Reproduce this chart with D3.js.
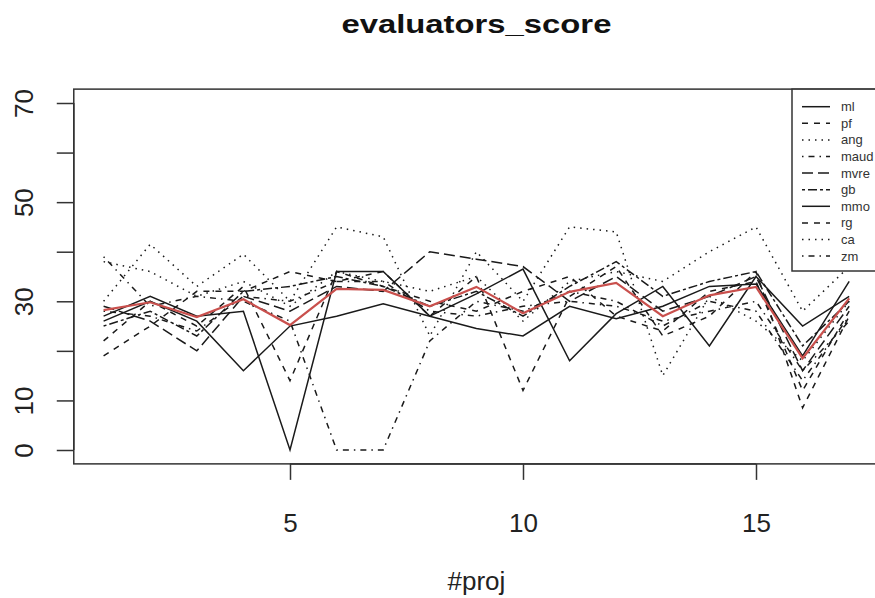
<!DOCTYPE html>
<html>
<head>
<meta charset="utf-8">
<script src="https://cdn.jsdelivr.net/npm/d3@7"></script>
<style>
  html, body { margin: 0; padding: 0; background: #fff; }
  text { font-family: "Liberation Sans", Arial, sans-serif; }
</style>
</head>
<body>
<div id="chart"></div>
<script>
// project index on x
const projects = [1, 2, 3, 4, 5, 6, 7, 8, 9, 10, 11, 12, 13, 14, 15, 16, 17];
const evaluators = ["ml", "pf", "ang", "maud", "mvre", "gb", "mmo", "rg", "ca", "zm"];

// scores per evaluator
const ml   = [27, 31, 27, 28, 0, 36, 36, 27, 31.5, 36.5, 18, 27.5, 33, 21, 35, 25, 31];
const pf   = [22, 30, 25, 33, 14, 36, 33, 30, 28, 32, 35, 27, 24, 32, 34, 12, 28];
const ang  = [30, 41.5, 33, 39.5, 30, 45, 43, 23, 40, 30, 45, 44, 15, 31, 26, 18, 30];
const maud = [39, 29, 31, 30, 26, 0, 0, 22, 30, 28, 32, 30, 25, 30, 28, 14, 27];
const mvre = [29, 26, 20, 31, 28, 33, 32, 40, 38.5, 37, 30, 35, 28, 31, 35, 16, 29];
const gb   = [25, 28, 23, 32, 33, 35, 33, 29, 32, 27, 33, 38, 31, 34, 36, 21, 30];
const mmo  = [26, 30, 26, 16, 25, 27, 29.5, 27, 24.5, 23, 29, 26.5, 29, 33, 33.5, 19, 34];
const rg   = [19, 25, 32, 32, 36, 34, 36, 27, 35, 12, 31, 37, 23, 27, 36, 8.5, 27];
const ca   = [38, 36, 31, 34, 29, 36, 34, 32, 35, 26, 34, 36, 34, 40, 45, 28, 37];
const zm   = [28, 27, 24, 31, 30, 34, 34, 28, 27, 29, 30, 29, 26, 28, 30, 16, 26];

// red line (average)
const meanScore = [28.2, 29.8, 26.8, 30.4, 25.2, 32.5, 32.3, 29, 32.9, 27.6, 31.9, 33.7, 27, 31.2, 32.9, 18.5, 30.6];

const yTicks = [0, 10, 20, 30, 40, 50, 60, 70];
const yLabels = [0, 10, 30, 50, 70];
const xTicks = [5, 10, 15];

const scores = { ml, pf, ang, maud, mvre, gb, mmo, rg, ca, zm };

// R lty 1..6 cycling, scaled up to match the picture
const ltyDash = [null, "6,6", "1.5,5", "1.5,5,6,5", "11,5", "3,3,9,3"];

const width = 875, height = 598;
const axisColor = "#333";

const svg = d3.select("#chart")
  .append("svg")
  .attr("width", width)
  .attr("height", height)
  .style("background-color", "white");

const xScale = d3.scaleLinear().domain([1, 17]).range([103.6, 849.2]);
const yScale = d3.scaleLinear().domain([0, 70]).range([450, 103]);

// R style 4% padding for the box
const boxL = xScale(1 - 0.64), boxR = xScale(17 + 0.64);
const boxT = yScale(70 + 2.8), boxB = yScale(0 - 2.8);

svg.append("text")
  .attr("x", (boxL + boxR) / 2)
  .attr("y", 33)
  .attr("text-anchor", "middle")
  .attr("font-size", "26px")
  .attr("font-weight", "bold")
  .attr("textLength", 270)
  .attr("lengthAdjust", "spacingAndGlyphs")
  .attr("fill", "#111")
  .text("evaluators_score");

// series
const line = d3.line()
  .x((d, i) => xScale(projects[i]))
  .y(d => yScale(d));

const plot = svg.append("g").attr("class", "lines");

evaluators.forEach((name, k) => {
  plot.append("path")
    .datum(scores[name])
    .attr("fill", "none")
    .attr("stroke", "#1a1a1a")
    .attr("stroke-width", 1.5)
    .attr("stroke-dasharray", ltyDash[k % 6])
    .attr("d", line);
});

plot.append("path")
  .datum(meanScore)
  .attr("fill", "none")
  .attr("stroke", "#c9504d")
  .attr("stroke-width", 2.2)
  .attr("d", line);

// box
svg.append("rect")
  .attr("x", boxL)
  .attr("y", boxT)
  .attr("width", boxR - boxL)
  .attr("height", boxB - boxT)
  .attr("fill", "none")
  .attr("stroke", axisColor)
  .attr("stroke-width", 1.5);

// x axis
const xAxis = d3.axisBottom(xScale)
  .tickValues(xTicks)
  .tickSize(16)
  .tickPadding(34)
  .tickFormat(d3.format("d"));

const xg = svg.append("g")
  .attr("class", "axis xAxis")
  .attr("transform", "translate(0, " + boxB + ")")
  .call(xAxis);
xg.select(".domain").attr("stroke", axisColor).attr("stroke-width", 1.5)
  .attr("d", "M" + xScale(5) + ",0H" + xScale(15));
xg.selectAll(".tick line").attr("stroke", axisColor).attr("stroke-width", 1.5);
xg.selectAll(".tick text")
  .attr("font-size", "26px")
  .attr("font-family", "Liberation Sans, Arial, sans-serif")
  .attr("fill", "#222");

// y axis
const yAxis = d3.axisLeft(yScale)
  .tickValues(yTicks)
  .tickSize(17)
  .tickFormat(d => yLabels.includes(d) ? d : "");

const yg = svg.append("g")
  .attr("class", "axis yAxis")
  .attr("transform", "translate(" + boxL + ", 0)")
  .call(yAxis);
yg.select(".domain").attr("stroke", axisColor).attr("stroke-width", 1.5)
  .attr("d", "M0," + yScale(0) + "V" + yScale(70));
yg.selectAll(".tick line").attr("stroke", axisColor).attr("stroke-width", 1.5);
yg.selectAll(".tick text")
  .attr("font-size", "26px")
  .attr("font-family", "Liberation Sans, Arial, sans-serif")
  .attr("fill", "#222")
  .attr("text-anchor", "middle")
  .attr("dy", 0)
  .attr("x", 0)
  .attr("transform", "translate(" + (33 - boxL) + ",0) rotate(-90)");

// x label
svg.append("text")
  .attr("x", (boxL + boxR) / 2)
  .attr("y", 590)
  .attr("text-anchor", "middle")
  .attr("font-size", "26px")
  .attr("fill", "#222")
  .text("#proj");

// legend, top right inside the box
const legend = svg.append("g").attr("class", "legend");
const legL = 792, rowH = 16.6, firstRow = 106.7;

legend.append("rect")
  .attr("x", legL)
  .attr("y", boxT)
  .attr("width", boxR - legL)
  .attr("height", 271 - boxT)
  .attr("fill", "white")
  .attr("stroke", axisColor)
  .attr("stroke-width", 1.5);

evaluators.forEach((name, k) => {
  const y = firstRow + k * rowH;
  legend.append("line")
    .attr("x1", 802).attr("x2", 830)
    .attr("y1", y).attr("y2", y)
    .attr("stroke", "#1a1a1a")
    .attr("stroke-width", 1.5)
    .attr("stroke-dasharray", ltyDash[k % 6]);
  legend.append("text")
    .attr("x", 841)
    .attr("y", y + 4.5)
    .attr("font-size", "13px")
    .attr("fill", "#333")
    .text(name);
});
</script>
</body>
</html>
